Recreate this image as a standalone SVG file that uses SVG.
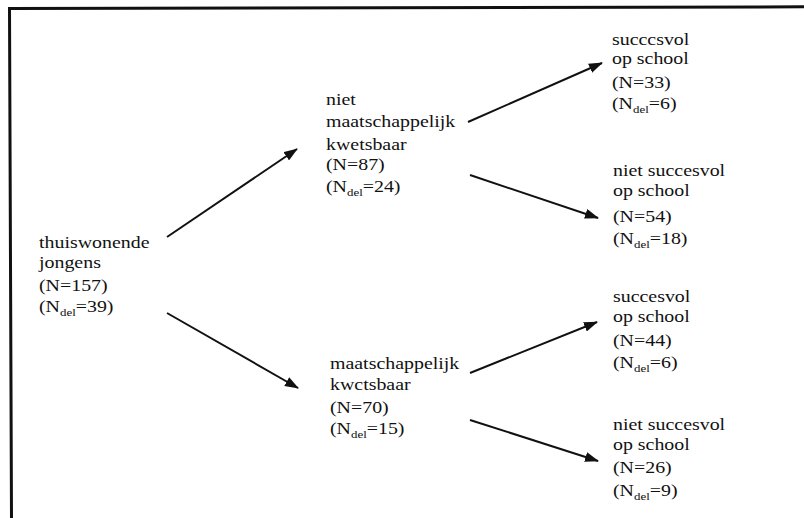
<svg xmlns="http://www.w3.org/2000/svg" width="804" height="518" viewBox="0 0 804 518">
<defs>
<style>
.lbl{font-size:17px;fill:#111}
.sub{font-size:11px}
.conn{stroke:#111;stroke-width:2;fill:none}
.frame{stroke:#111;stroke-width:3;fill:none}
</style>
<marker id="ah" markerWidth="14" markerHeight="10" refX="13" refY="5" orient="auto" markerUnits="userSpaceOnUse">
<path d="M0,0 L14,5 L0,10 Z" fill="#111"/>
</marker>
</defs>
<rect width="804" height="518" fill="#fff"/>
<path class="frame" d="M11.5,518 L9.5,8.5 L804,6.8"/>

<g id="connectors">
<line class="conn" x1="167" y1="237" x2="297" y2="149" marker-end="url(#ah)"/>
<line class="conn" x1="167" y1="313" x2="298" y2="388" marker-end="url(#ah)"/>
<line class="conn" x1="468" y1="122" x2="602" y2="63" marker-end="url(#ah)"/>
<line class="conn" x1="470" y1="175" x2="598" y2="218" marker-end="url(#ah)"/>
<line class="conn" x1="470" y1="373" x2="597" y2="322" marker-end="url(#ah)"/>
<line class="conn" x1="470" y1="420" x2="598" y2="461" marker-end="url(#ah)"/>
</g>

<g class="lbl" font-family="Liberation Serif" font-size="17">
<g id="n-root" transform="translate(39,0) scale(1.17,1)">
<text x="0" y="248">thuiswonende</text>
<text x="0" y="268">jongens</text>
<text x="0" y="291">(N=157)</text>
<text x="0" y="312">(N<tspan class="sub" dy="4">del</tspan><tspan dy="-4">=39)</tspan></text>
</g>

<g id="n-niet-kwetsbaar" transform="translate(326,0) scale(1.17,1)">
<text x="0" y="105">niet</text>
<text x="0" y="127">maatschappelijk</text>
<text x="0" y="150">kwetsbaar</text>
<text x="0" y="170">(N=87)</text>
<text x="0" y="192">(N<tspan class="sub" dy="4">del</tspan><tspan dy="-4">=24)</tspan></text>
</g>

<g id="n-kwetsbaar" transform="translate(330,0) scale(1.17,1)">
<text x="0" y="369">maatschappelijk</text>
<text x="0" y="390">kwctsbaar</text>
<text x="0" y="413">(N=70)</text>
<text x="0" y="434">(N<tspan class="sub" dy="4">del</tspan><tspan dy="-4">=15)</tspan></text>
</g>

<g id="n-r1" transform="translate(612,0) scale(1.17,1)">
<text x="0" y="45">succcsvol</text>
<text x="0" y="64">op school</text>
<text x="0" y="88">(N=33)</text>
<text x="0" y="109">(N<tspan class="sub" dy="4">del</tspan><tspan dy="-4">=6)</tspan></text>
</g>

<g id="n-r2" transform="translate(613,0) scale(1.17,1)">
<text x="0" y="176">niet succesvol</text>
<text x="0" y="196">op school</text>
<text x="0" y="222">(N=54)</text>
<text x="0" y="244">(N<tspan class="sub" dy="4">del</tspan><tspan dy="-4">=18)</tspan></text>
</g>

<g id="n-r3" transform="translate(613,0) scale(1.17,1)">
<text x="0" y="302">succesvol</text>
<text x="0" y="322">op school</text>
<text x="0" y="346">(N=44)</text>
<text x="0" y="368">(N<tspan class="sub" dy="4">del</tspan><tspan dy="-4">=6)</tspan></text>
</g>

<g id="n-r4" transform="translate(613,0) scale(1.17,1)">
<text x="0" y="430">niet succesvol</text>
<text x="0" y="450">op school</text>
<text x="0" y="473">(N=26)</text>
<text x="0" y="496">(N<tspan class="sub" dy="4">del</tspan><tspan dy="-4">=9)</tspan></text>
</g>
</g>
</svg>
